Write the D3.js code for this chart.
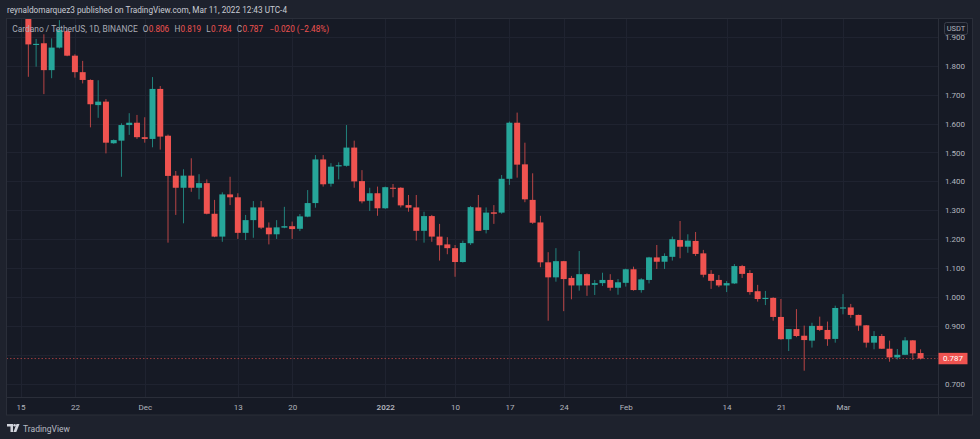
<!DOCTYPE html>
<html>
<head>
<meta charset="utf-8">
<script src="https://cdn.jsdelivr.net/npm/d3@7"></script>
<style>
  html, body { margin: 0; padding: 0; background: #1e222d; }
  svg { display: block; }
  text { font-family: Roboto, "Liberation Sans", sans-serif; }
</style>
</head>
<body>
<svg id="chart" width="980" height="439"></svg>
<script>
// ---------- DATA (ADA/USDT, 1D, Binance) ----------
const firstDay = "2021-11-16";
const open  = [2.030,1.872,1.878,1.785,1.863,1.920,1.835,1.778,1.751,1.664,1.676,1.532,1.541,1.595,1.603,1.553,1.547,1.720,1.558,1.420,
               1.378,1.420,1.378,1.394,1.288,1.209,1.355,1.345,1.222,1.266,1.310,1.240,1.217,1.240,1.245,1.236,1.278,1.325,1.476,1.392,
               1.452,1.454,1.517,1.401,1.333,1.359,1.307,1.378,1.378,1.318,1.310,1.229,1.280,1.209,1.182,1.169,1.121,1.186,1.310,1.232,
               1.293,1.292,1.409,1.603,1.459,1.336,1.258,1.120,1.068,1.124,1.066,1.040,1.079,1.042,1.048,1.059,1.032,1.049,1.096,1.024,
               1.059,1.137,1.122,1.139,1.197,1.174,1.194,1.151,1.080,1.059,1.040,1.047,1.107,1.083,1.020,0.993,0.997,0.931,0.854,0.889,
               0.866,0.849,0.900,0.886,0.855,0.960,0.964,0.938,0.902,0.842,0.865,0.821,0.791,0.800,0.850,0.806];
const high  = [2.060,1.893,1.909,1.895,1.958,1.925,1.840,1.817,1.753,1.750,1.685,1.545,1.601,1.636,1.630,1.622,1.761,1.730,1.562,1.436,
               1.442,1.480,1.425,1.407,1.336,1.362,1.416,1.359,1.284,1.332,1.332,1.258,1.266,1.312,1.261,1.287,1.370,1.491,1.491,1.463,
               1.466,1.595,1.541,1.439,1.378,1.382,1.382,1.391,1.380,1.353,1.353,1.295,1.284,1.253,1.207,1.180,1.195,1.315,1.353,1.310,
               1.318,1.422,1.607,1.638,1.534,1.428,1.281,1.155,1.169,1.125,1.073,1.159,1.082,1.059,1.084,1.079,1.062,1.098,1.105,1.065,
               1.139,1.180,1.151,1.209,1.263,1.217,1.225,1.163,1.093,1.076,1.055,1.114,1.111,1.093,1.042,1.021,0.999,0.993,0.889,0.958,
               0.901,0.911,0.932,0.915,0.970,1.010,0.976,0.939,0.903,0.882,0.872,0.849,0.820,0.861,0.851,0.819];
const low   = [1.762,1.797,1.702,1.757,1.860,1.833,1.759,1.739,1.587,1.620,1.497,1.530,1.416,1.561,1.547,1.534,1.518,1.510,1.188,1.284,
               1.255,1.364,1.338,1.286,1.207,1.191,1.318,1.201,1.197,1.205,1.235,1.182,1.201,1.238,1.201,1.228,1.276,1.309,1.382,1.382,
               1.407,1.451,1.378,1.324,1.298,1.281,1.305,1.345,1.310,1.295,1.195,1.188,1.191,1.126,1.148,1.070,1.119,1.180,1.228,1.220,
               1.253,1.288,1.388,1.413,1.328,1.253,1.103,0.918,1.053,0.951,0.992,1.022,1.004,1.007,1.038,1.022,1.008,1.036,1.022,1.015,
               1.047,1.097,1.097,1.126,1.134,1.153,1.142,1.068,1.028,1.034,1.017,1.045,1.066,1.008,0.984,0.972,0.918,0.852,0.813,0.861,
               0.745,0.825,0.882,0.831,0.842,0.940,0.928,0.883,0.825,0.819,0.820,0.776,0.784,0.799,0.782,0.784];
const close = [1.874,1.876,1.785,1.863,1.924,1.835,1.778,1.751,1.667,1.676,1.534,1.543,1.595,1.603,1.553,1.547,1.720,1.555,1.419,1.378,
               1.420,1.378,1.394,1.288,1.209,1.355,1.345,1.222,1.266,1.310,1.240,1.217,1.241,1.245,1.235,1.279,1.325,1.476,1.390,1.451,
               1.456,1.517,1.400,1.331,1.359,1.307,1.380,1.375,1.317,1.309,1.229,1.280,1.209,1.179,1.169,1.121,1.187,1.311,1.229,1.292,
               1.288,1.409,1.603,1.458,1.338,1.257,1.120,1.068,1.124,1.062,1.040,1.079,1.040,1.048,1.059,1.032,1.051,1.096,1.024,1.061,
               1.137,1.122,1.142,1.200,1.174,1.195,1.149,1.077,1.056,1.040,1.048,1.107,1.080,1.017,0.993,0.997,0.931,0.854,0.889,0.865,
               0.851,0.900,0.886,0.854,0.962,0.964,0.938,0.901,0.842,0.865,0.821,0.791,0.800,0.850,0.805,0.787];

const priceTicks = [0.7, 0.8, 0.9, 1.0, 1.1, 1.2, 1.3, 1.4, 1.5, 1.6, 1.7, 1.8, 1.9];
const timeTicks  = ["2021-11-15","2021-11-22","2021-12-01","2021-12-13","2021-12-20","2022-01-01",
                    "2022-01-10","2022-01-17","2022-01-24","2022-02-01","2022-02-14","2022-02-21","2022-03-01"];
const timeTickLabels = ["15","22","Dec","13","20","2022","10","17","24","Feb","14","21","Mar"];
const lastPrice = 0.787;
const headerText = "reynaldomarquez3 published on TradingView.com, Mar 11, 2022 12:43 UTC-4";
const legendTitle = "Cardano / TetherUS, 1D, BINANCE";
const legendKeys   = ["O", "H", "L", "C"];
const legendValues = ["0.806", "0.819", "0.784", "0.787"];
const legendChange = "\u22120.020 (\u22122.48%)";

// ---------- STYLE / LAYOUT ----------
const W = 980, H = 439;
const paneL = 6.5, paneT = 18.5, paneR = 972.5, paneB = 415;
const plotR = 938.5, plotB = 397.5;
const UP = "#26a69a", DOWN = "#ef5350";
const OUTER = "#1e222d", PANE = "#161a25", BORDER = "#2a2e39", GRID = "#1f2330";
const TXT = "#b2b5be";

const svg = d3.select("#chart");
const parse = d3.utcParse("%Y-%m-%d");
const start = parse(firstDay);
const candles = open.map((o, i) => ({
  date: d3.utcDay.offset(start, i), o, h: high[i], l: low[i], c: close[i]
}));

const x = d3.scaleUtc()
  .domain([parse("2021-11-15"), parse("2022-03-01")])
  .range([20.6, 843]);
const y = d3.scaleLinear().domain([0.7, 1.9]).range([383.7, 36.9]);

// backgrounds
svg.append("rect").attr("width", W).attr("height", H).attr("fill", OUTER);
svg.append("rect").attr("x", paneL).attr("y", paneT).attr("width", paneR - paneL).attr("height", paneB - paneT)
  .attr("fill", PANE).attr("stroke", BORDER).attr("stroke-width", 1);

// grid
const grid = svg.append("g");
grid.selectAll("line.h").data(priceTicks).join("line")
  .attr("x1", paneL + 0.5).attr("x2", plotR)
  .attr("y1", d => Math.round(y(d)) + 0.5).attr("y2", d => Math.round(y(d)) + 0.5)
  .attr("stroke", GRID);
grid.selectAll("line.v").data(timeTicks).join("line")
  .attr("x1", d => Math.round(x(parse(d))) + 0.5).attr("x2", d => Math.round(x(parse(d))) + 0.5)
  .attr("y1", paneT + 0.5).attr("y2", plotB)
  .attr("stroke", GRID);

// separators
svg.append("line").attr("x1", plotR).attr("x2", plotR).attr("y1", paneT).attr("y2", paneB).attr("stroke", BORDER);
svg.append("line").attr("x1", paneL).attr("x2", paneR).attr("y1", plotB).attr("y2", plotB).attr("stroke", BORDER);

// clip
svg.append("clipPath").attr("id", "plotClip").append("rect")
  .attr("x", paneL + 0.5).attr("y", paneT + 0.5).attr("width", plotR - paneL - 1).attr("height", plotB - paneT - 1);
const plot = svg.append("g").attr("clip-path", "url(#plotClip)");

// last price dashed line
plot.append("line").attr("x1", paneL).attr("x2", plotR)
  .attr("y1", y(lastPrice)).attr("y2", y(lastPrice))
  .attr("stroke", DOWN).attr("stroke-opacity", 0.6).attr("stroke-dasharray", "1.5,2");

// candles
const bodyW = 6;
const cg = plot.selectAll("g.candle").data(candles).join("g").attr("class", "candle");
cg.append("line")
  .attr("x1", d => x(d.date)).attr("x2", d => x(d.date))
  .attr("y1", d => y(d.h)).attr("y2", d => y(d.l))
  .attr("stroke", d => d.c >= d.o ? UP : DOWN).attr("stroke-width", 1).attr("stroke-opacity", 0.75);
cg.append("rect")
  .attr("x", d => x(d.date) - bodyW / 2).attr("width", bodyW)
  .attr("y", d => y(Math.max(d.o, d.c)))
  .attr("height", d => Math.max(1, Math.abs(y(d.o) - y(d.c))))
  .attr("fill", d => d.c >= d.o ? UP : DOWN);

// price axis
const yAxis = d3.axisRight(y).tickValues(priceTicks).tickFormat(d3.format(".3f")).tickSize(0).tickPadding(6.5);
const ya = svg.append("g").attr("transform", `translate(${plotR},0)`).call(yAxis);
ya.select(".domain").remove();
ya.selectAll("text").attr("fill", TXT).attr("font-size", 8).attr("font-family", "Roboto, sans-serif");

// time axis
const xAxis = d3.axisBottom(x).tickValues(timeTicks.map(parse))
  .tickFormat((d, i) => timeTickLabels[i]).tickSize(0).tickPadding(6.5);
const xa = svg.append("g").attr("transform", `translate(0,${plotB})`).call(xAxis);
xa.select(".domain").remove();
xa.selectAll("text").attr("fill", TXT).attr("font-size", 8).attr("font-family", "Roboto, sans-serif")
  .attr("font-weight", (d, i) => timeTickLabels[i] === "2022" ? 600 : 400);

// last price label (covers the 0.800 tick label, as in the original)
const ly = y(lastPrice);
svg.append("rect").attr("x", plotR).attr("y", ly - 5.7).attr("width", 29).attr("height", 11.4).attr("fill", DOWN);
svg.append("text").attr("x", plotR + 14.5).attr("y", ly).attr("dy", "0.35em").attr("text-anchor", "middle")
  .attr("fill", "#ffffff").attr("font-size", 8).text(lastPrice.toFixed(3));

// USDT box
svg.append("rect").attr("x", 944.5).attr("y", 22.5).attr("width", 23).attr("height", 12).attr("rx", 2)
  .attr("fill", PANE).attr("stroke", "#3a3e4a");
svg.append("text").attr("x", 956).attr("y", 28.7).attr("dy", "0.35em").attr("text-anchor", "middle")
  .attr("fill", TXT).attr("font-size", 7.5).text("USDT");

// header
svg.append("text").attr("x", 7).attr("y", 10).attr("dy", "0.35em")
  .attr("fill", "#c9ccd4").attr("font-size", 9.5)
  .attr("textLength", 280).attr("lengthAdjust", "spacingAndGlyphs").text(headerText);

// legend: separate text pieces laid out one after the other
const LGREY = "#a9acb6", LRED = "#f05350";
const lg = svg.append("g");
const title = lg.append("text").attr("x", 12.3).attr("y", 29.3).attr("dy", "0.35em").attr("fill", LGREY)
  .attr("font-size", 8.4).text(legendTitle);
const pieces = [];
legendKeys.forEach((k, i) => {
  pieces.push({t: k, c: LGREY, gap: i === 0 ? 0 : 5.2});
  pieces.push({t: legendValues[i], c: LRED, gap: 0.3});
});
pieces.push({t: legendChange, c: LRED, gap: 6.5});
let cx = Math.max(142.7, 12.3 + title.node().getComputedTextLength() + 5);
pieces.forEach(p => {
  cx += p.gap;
  const t = lg.append("text").attr("x", cx).attr("y", 29.3).attr("dy", "0.35em")
    .attr("fill", p.c).attr("font-size", 8.2).text(p.t);
  cx += t.node().getComputedTextLength();
});

// TradingView logo
const logo = svg.append("g").attr("transform", "translate(7,424)").attr("fill", "#d1d4dc");
logo.append("path").attr("d", "M0,0 H6 V8 H3.5 V2.5 H0 Z");
logo.append("circle").attr("cx", 7.6).attr("cy", 1.3).attr("r", 1.3);
logo.append("path").attr("d", "M9.5,0 H12.5 L9.3,8 H6.4 Z");
svg.append("text").attr("x", 23).attr("y", 428.3).attr("dy", "0.35em").attr("fill", "#b8bbc3")
  .attr("font-size", 9.5).attr("textLength", 47).attr("lengthAdjust", "spacingAndGlyphs").text("TradingView");
</script>
</body>
</html>
